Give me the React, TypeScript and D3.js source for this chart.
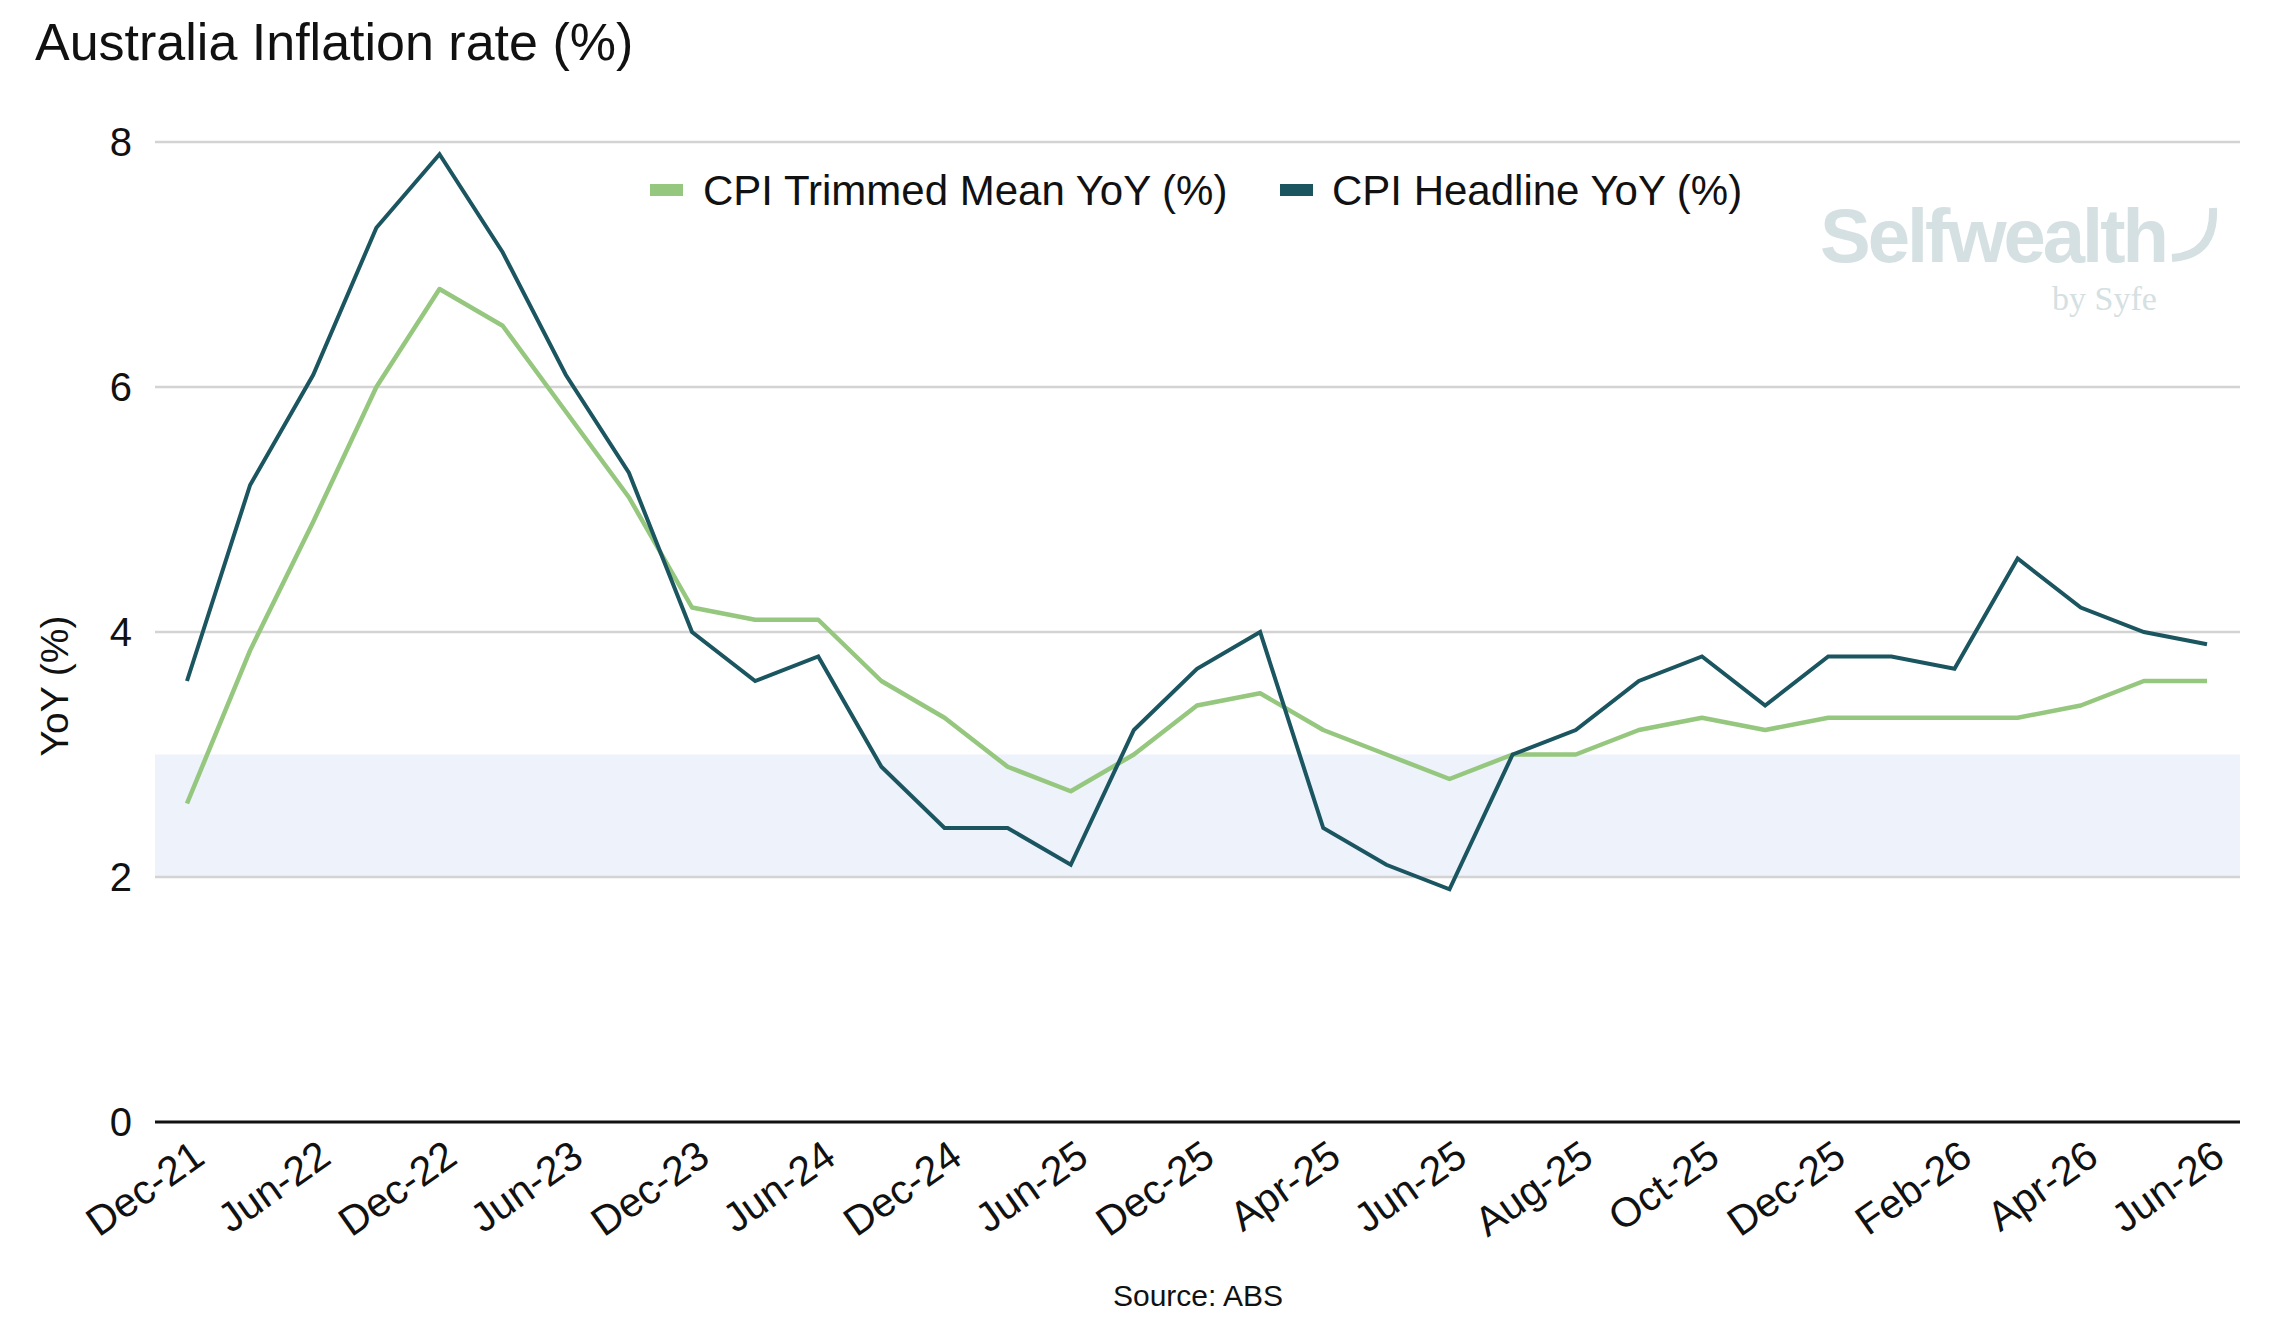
import React from "react";
import * as d3 from "d3";

const tickLabels = ["Dec-21","Jun-22","Dec-22","Jun-23","Dec-23","Jun-24","Dec-24","Jun-25","Dec-25","Apr-25","Jun-25","Aug-25","Oct-25","Dec-25","Feb-26","Apr-26","Jun-26"];
const headline = [3.6,5.2,6.1,7.3,7.9,7.1,6.1,5.3,4.0,3.6,3.8,2.9,2.4,2.4,2.1,3.2,3.7,4.0,2.4,2.1,1.9,3.0,3.2,3.6,3.8,3.4,3.8,3.8,3.7,4.6,4.2,4.0,3.9];
const trimmed = [2.6,3.85,4.9,6.0,6.8,6.5,5.8,5.1,4.2,4.1,4.1,3.6,3.3,2.9,2.7,3.0,3.4,3.5,3.2,3.0,2.8,3.0,3.0,3.2,3.3,3.2,3.3,3.3,3.3,3.3,3.4,3.6,3.6];
const yTicks = [0,2,4,6,8];
const band = [2,3];

const W = 2272, H = 1324;
const FONT = "'Liberation Sans', Arial, sans-serif";
const L = 155, R = 2240;

export default function App() {
  const x = d3.scaleLinear().domain([0, headline.length - 1]).range([187, 2207]);
  const y = d3.scaleLinear().domain([0, 8]).range([1122, 142]);
  const line = d3.line<number>().x((_, i) => x(i)).y(d => y(d));
  return (
    <div style={{ position: "fixed", left: 0, top: 0 }}>
      <svg width={W} height={H} style={{ display: "block", background: "#fff" }} fontFamily={FONT}>
        <text x={35} y={60} fontSize={52} fill="#111">Australia Inflation rate (%)</text>
        <rect x={L} width={R - L} y={y(band[1])} height={y(band[0]) - y(band[1])} fill="#edf2fb" />
        {yTicks.map(t => (
          <g key={t}>
            {t !== 0 && <line x1={L} x2={R} y1={y(t)} y2={y(t)} stroke="#d3d3d3" strokeWidth={2.5} />}
            <text x={132} y={y(t)} dy="0.36em" textAnchor="end" fontSize={40} fill="#111">{t}</text>
          </g>
        ))}
        <text transform={`translate(68,${686}) rotate(-90)`} textAnchor="middle" fontSize={39} fill="#111">YoY (%)</text>
        <path d={line(trimmed) || ""} fill="none" stroke="#95c77e" strokeWidth={4.5} strokeLinejoin="round" />
        <path d={line(headline) || ""} fill="none" stroke="#1a5560" strokeWidth={4} strokeLinejoin="miter" />
        <line x1={L} x2={R} y1={y(0)} y2={y(0)} stroke="#111" strokeWidth={3} />
        {tickLabels.map((l, i) => (
          <text key={i} transform={`translate(${x(i * 2) + 20},${1162}) rotate(-35)`} textAnchor="end" fontSize={41} fill="#111">{l}</text>
        ))}
        <rect x={650} y={184} width={33} height={12} fill="#95c77e" />
        <text x={703} y={190} dy="0.36em" fontSize={42} fill="#111">CPI Trimmed Mean YoY (%)</text>
        <rect x={1280} y={184} width={33} height={12} fill="#1a5560" />
        <text x={1332} y={190} dy="0.36em" fontSize={42} fill="#111">CPI Headline YoY (%)</text>
        <text x={1820} y={262} fontSize={76} fontWeight="bold" fill="#d4e0e2" letterSpacing={-3}>Selfwealth</text>
        <path d="M2213,208 Q2215,255 2172,258" fill="none" stroke="#d4e0e2" strokeWidth={8} />
        <text x={2052} y={310} fontSize={34} fontFamily="'Liberation Serif', serif" fill="#d4e0e2">by Syfe</text>
        <text x={1198} y={1306} textAnchor="middle" fontSize={30} fill="#111">Source: ABS</text>
      </svg>
    </div>
  );
}
